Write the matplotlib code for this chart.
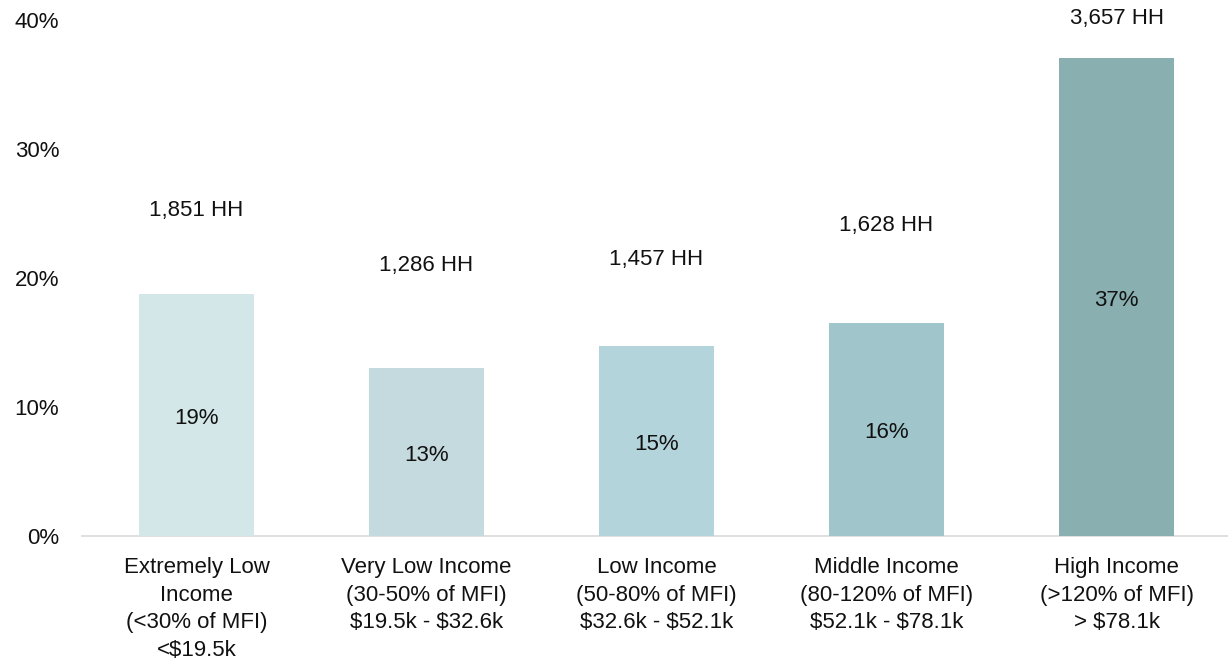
import matplotlib

matplotlib.use("Agg")
import matplotlib.pyplot as plt
import numpy as np

categories = [
    "Extremely Low\nIncome\n(<30% of MFI)\n<$19.5k",
    "Very Low Income\n(30-50% of MFI)\n$19.5k - $32.6k",
    "Low Income\n(50-80% of MFI)\n$32.6k - $52.1k",
    "Middle Income\n(80-120% of MFI)\n$52.1k - $78.1k",
    "High Income\n(>120% of MFI)\n> $78.1k",
]
households = [1851, 1286, 1457, 1628, 3657]
share_pct = [18.74, 13.02, 14.75, 16.48, 37.02]
pct_labels = ["19%", "13%", "15%", "16%", "37%"]
yticks = [0, 10, 20, 30, 40]

# style / placement
bar_colors = ["#D3E6E8", "#C5DADE", "#B3D4DA", "#A0C6CC", "#89AFB1"]
hh_label_y = [25.2, 21.0, 21.4, 24.1, 40.1]

plt.rcParams["font.family"] = ["Liberation Sans", "DejaVu Sans"]
plt.rcParams["text.parse_math"] = False
fs = 16

W, H = 1228, 665
fig = plt.figure(figsize=(W / 100, H / 100), dpi=100, facecolor="white")
ax = fig.add_axes([81.5 / W, (H - 536) / H, (W - 81.5) / W, 516 / H])

x = np.arange(len(categories))
ax.bar(x, share_pct, width=0.5, color=bar_colors, zorder=2)

for xi, v, pl, hh, hy in zip(x, share_pct, pct_labels, households, hh_label_y):
    ax.text(xi, v / 2 - 0.25, pl, ha="center", va="center", fontsize=fs, color="#111111")
    ax.text(xi, hy, "{:,} HH".format(hh), ha="center", va="center", fontsize=fs,
            color="#111111", clip_on=False)

ax.set_xlim(-0.5, -0.5 + (W - 81.5) / 230.0)
ax.set_ylim(0, 40)
ax.set_yticks(yticks)
ax.set_yticklabels(["%d%%" % t for t in yticks], fontsize=fs, color="#111111")
ax.set_xticks(x)
ax.set_xticklabels(categories, fontsize=fs, color="#111111", linespacing=1.42, va="top")
ax.tick_params(axis="both", length=0)
ax.tick_params(axis="x", pad=15)
ax.tick_params(axis="y", pad=16)

for s in ["top", "right", "left"]:
    ax.spines[s].set_visible(False)
ax.spines["bottom"].set_color("#D9D9D9")
ax.spines["bottom"].set_linewidth(1.2)
ax.spines["bottom"].set_zorder(1)

fig.savefig("out.png", dpi=100, facecolor="white")
